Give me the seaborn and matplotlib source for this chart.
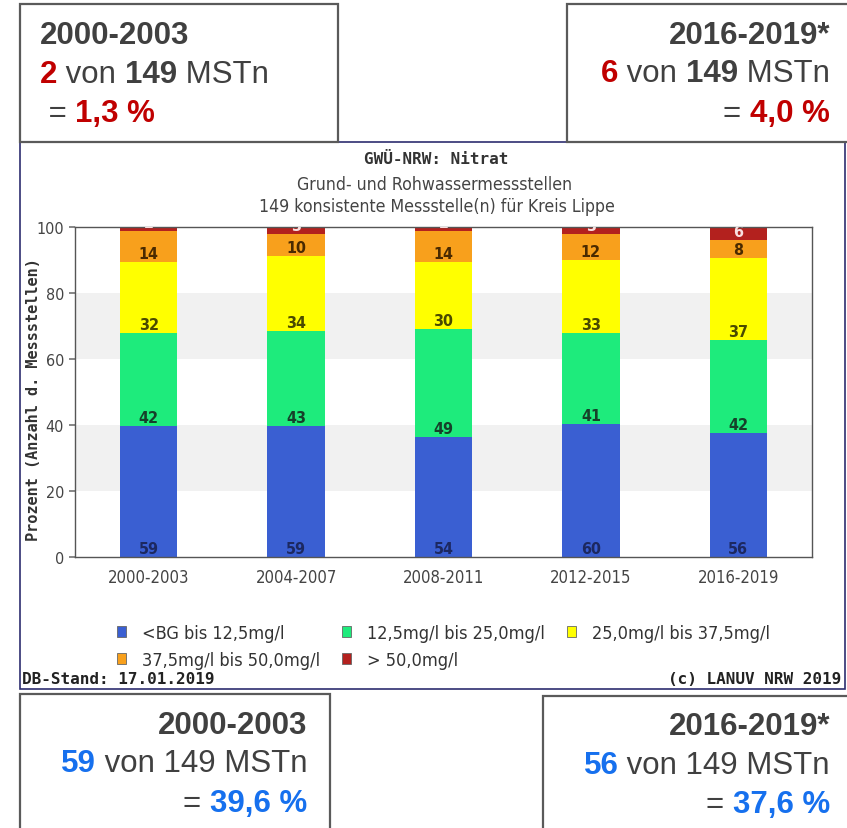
import os
import numpy as np
import pandas as pd
import matplotlib
matplotlib.use("Agg")
import matplotlib.pyplot as plt
import seaborn as sns
from matplotlib import font_manager as fm
from matplotlib.font_manager import FontProperties
from matplotlib.patches import Rectangle
from matplotlib.offsetbox import TextArea, HPacker, AnnotationBbox

# ---- data: number of monitoring sites per nitrate class and period ----
periods = ["2000-2003", "2004-2007", "2008-2011", "2012-2015", "2016-2019"]
classes = ["<BG bis 12,5mg/l", "12,5mg/l bis 25,0mg/l", "25,0mg/l bis 37,5mg/l",
           "37,5mg/l bis 50,0mg/l", "> 50,0mg/l"]
n_low = [59, 59, 54, 60, 56]
n_mid = [42, 43, 49, 41, 42]
n_high = [32, 34, 30, 33, 37]
n_crit = [14, 10, 14, 12, 8]
n_over = [2, 3, 2, 3, 6]
total_sites = 149

class_colors = ["#3A5FD2", "#1EEB7C", "#FFFF00", "#F8A01C", "#B3211E"]
label_colors = ["#1C2860", "#16402A", "#4A4A00", "#4A2A00", "#F8E0E0"]

counts = np.array([n_low, n_mid, n_high, n_crit, n_over], dtype=float)
pct = counts / total_sites * 100
tops = np.cumsum(pct, axis=0)
bottoms = tops - pct

W, H = 847, 829
sns.set_theme(style="white")
plt.rcParams["font.family"] = ["DejaVu Sans"]


def font_file(name):
    for f in fm.fontManager.ttflist:
        if os.path.basename(f.fname) == name:
            return f.fname
    return None


COND = font_file("DejaVuSansCondensed.ttf")
COND_B = font_file("DejaVuSansCondensed-Bold.ttf")


def sans(size, bold=False):
    path = COND_B if bold else COND
    if path:
        return FontProperties(fname=path, size=size)
    return FontProperties(family="DejaVu Sans", size=size * 0.9,
                          weight="bold" if bold else "normal")


def mono(size):
    return FontProperties(family="DejaVu Sans Mono", weight="bold", size=size)


fig = plt.figure(figsize=(W / 100, H / 100), dpi=100)
fig.patch.set_facecolor("white")


def fx(x):
    return x / W


def fy(y):
    return 1 - y / H


# chart panel frame
fig.add_artist(Rectangle((fx(20), fy(690)), fx(845) - fx(20), fy(143) - fy(690),
                         transform=fig.transFigure, fill=False,
                         edgecolor="#2E2E70", linewidth=1.2, zorder=0))

ax = fig.add_axes([fx(75), fy(558), fx(812) - fx(75), fy(228) - fy(558)])
ax.set_facecolor("white")
for lo, hi in [(20, 40), (60, 80)]:
    ax.axhspan(lo, hi, color="#F1F1F1", zorder=0, lw=0)

# stacked bars: draw cumulative heights from the top layer down
for k in range(len(classes) - 1, -1, -1):
    df = pd.DataFrame({"period": periods, "value": tops[k]})
    sns.barplot(data=df, x="period", y="value", color=class_colors[k],
                saturation=1, width=0.39, ax=ax, zorder=2, linewidth=0)

for k in range(len(classes)):
    for j in range(len(periods)):
        ax.text(j, bottoms[k, j] + 2.6, f"{int(counts[k, j])}", ha="center",
                va="center", fontproperties=sans(11.5, bold=True),
                color=label_colors[k], zorder=4, clip_on=True)

ax.set_ylim(0, 100)
ax.set_xlim(-0.5, len(periods) - 0.5)
ax.set_yticks([0, 20, 40, 60, 80, 100])
ax.set_xlabel("")
ax.set_ylabel("Prozent (Anzahl d. Messstellen)", fontproperties=mono(11),
              color="#333333")
ax.yaxis.set_label_coords(-0.046, 0.48)
ax.tick_params(axis="y", left=True, length=4, color="#777777",
               labelcolor="#444444", pad=4)
ax.tick_params(axis="x", bottom=False, length=0, labelcolor="#444444", pad=8)
for lab in ax.get_yticklabels():
    lab.set_fontproperties(sans(11.5))
for lab in ax.get_xticklabels():
    lab.set_fontproperties(sans(12))
for s in ax.spines.values():
    s.set_color("#555555")
    s.set_linewidth(1)

handles = [Rectangle((0, 0), 1, 1, facecolor=c, edgecolor="#666666", lw=0.6)
           for c in class_colors]
order = [0, 3, 1, 4, 2]
leg = fig.legend([handles[i] for i in order], [classes[i] for i in order],
                 loc="upper left", bbox_to_anchor=(fx(117), fy(625)), ncol=3,
                 frameon=False, prop=sans(13), handlelength=0.5,
                 handleheight=0.5, handletextpad=0.9, columnspacing=1.2,
                 labelspacing=0.5, borderpad=0, borderaxespad=0,
                 labelcolor="#333333")

# titles
fig.text(fx(436), fy(159), "GWÜ-NRW: Nitrat", ha="center", va="center",
         fontproperties=mono(11.5), color="#333333")
fig.text(fx(435), fy(185), "Grund- und Rohwassermessstellen", ha="center",
         va="center", fontproperties=sans(12.7), color="#444444")
fig.text(fx(437), fy(207), f"{total_sites} konsistente Messstelle(n) für Kreis Lippe",
         ha="center", va="center", fontproperties=sans(12.7), color="#444444")
fig.text(fx(22), fy(680), "DB-Stand: 17.01.2019", ha="left", va="center",
         fontproperties=mono(11.5), color="#222222")
fig.text(fx(841), fy(680), "(c) LANUV NRW 2019", ha="right", va="center",
         fontproperties=mono(11.5), color="#222222")

# summary boxes
BOXFONT = "Liberation Sans"
GREY, RED, BLUE = "#404040", "#C00000", "#1670EE"
FS = 22.5


def box(x0, y0, x1, y1):
    fig.add_artist(Rectangle((fx(x0), fy(y1)), fx(x1) - fx(x0), fy(y0) - fy(y1),
                             transform=fig.transFigure, facecolor="white",
                             edgecolor="#5A5A5A", linewidth=1.6, zorder=5))


def rich(parts, x, y, align):
    areas = [TextArea(t, textprops=dict(color=c, fontweight=w, fontsize=FS,
                                        family=BOXFONT)) for t, c, w in parts]
    pack = HPacker(children=areas, align="baseline", pad=0, sep=0)
    ab = AnnotationBbox(pack, (x, H - y), xycoords="figure pixels",
                        box_alignment=(align, 0.5), frameon=False, pad=0,
                        zorder=6)
    fig.add_artist(ab)


def share(n):
    return f"{n / total_sites * 100:.1f}".replace(".", ",")


box(20, 5, 338, 143)
rich([("2000-2003", GREY, "bold")], 40, 36, 0)
rich([(f"{n_over[0]}", RED, "bold"), (" von ", GREY, "normal"),
      (f"{total_sites}", GREY, "bold"), (" MSTn", GREY, "normal")], 40, 75, 0)
rich([(" = ", GREY, "normal"), (f"{share(n_over[0])} %", RED, "bold")], 40, 114, 0)

box(567, 5, 849, 143)
rich([("2016-2019*", GREY, "bold")], 830, 36, 1)
rich([(f"{n_over[-1]}", RED, "bold"), (" von ", GREY, "normal"),
      (f"{total_sites}", GREY, "bold"), (" MSTn", GREY, "normal")], 830, 74, 1)
rich([("= ", GREY, "normal"), (f"{share(n_over[-1])} %", RED, "bold")], 830, 114, 1)

box(20, 695, 330, 835)
rich([("2000-2003", GREY, "bold")], 307, 726, 1)
rich([(f"{n_low[0]}", BLUE, "bold"), (f" von {total_sites} MSTn", GREY, "normal")],
     307, 764, 1)
rich([("= ", GREY, "normal"), (f"{share(n_low[0])} %", BLUE, "bold")], 307, 804, 1)

box(543, 697, 849, 835)
rich([("2016-2019*", GREY, "bold")], 830, 727, 1)
rich([(f"{n_low[-1]}", BLUE, "bold"), (f" von {total_sites} MSTn", GREY, "normal")],
     830, 766, 1)
rich([("= ", GREY, "normal"), (f"{share(n_low[-1])} %", BLUE, "bold")], 830, 805, 1)

fig.savefig("out.png", dpi=100)
